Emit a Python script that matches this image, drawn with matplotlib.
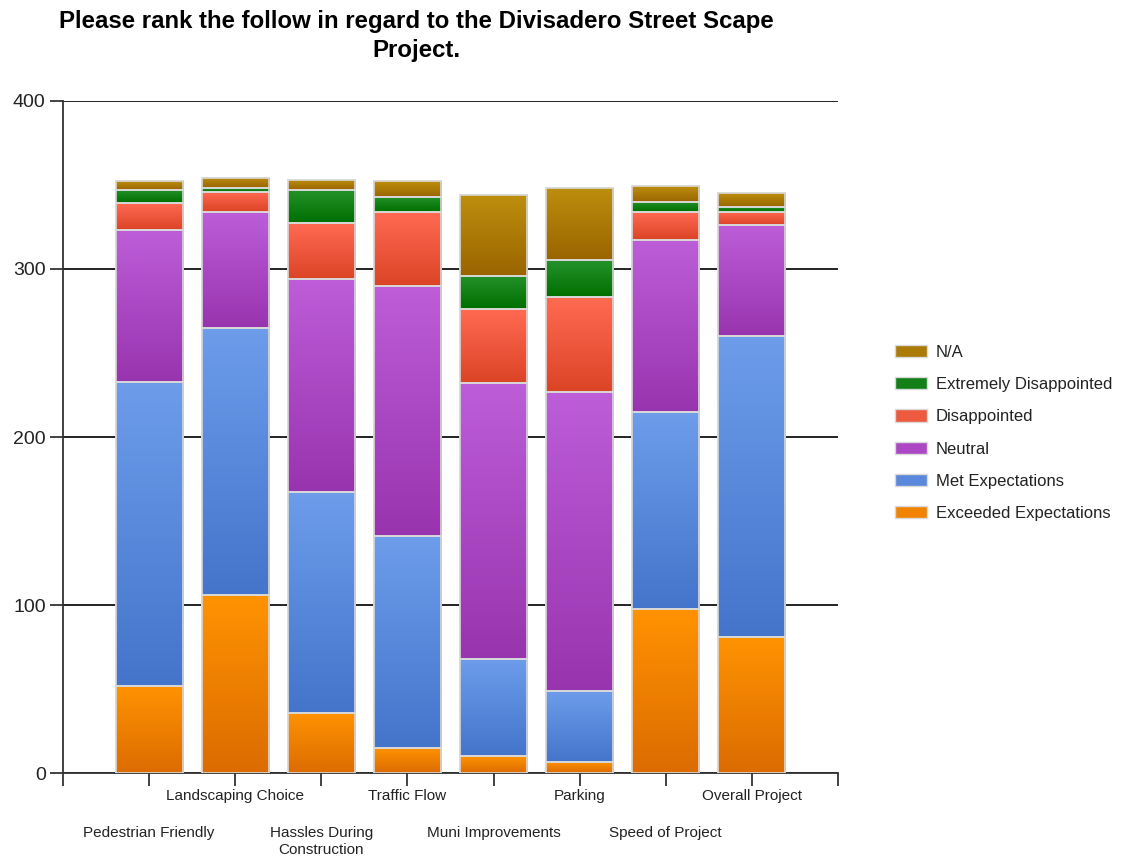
import numpy as np
import matplotlib.pyplot as plt
from matplotlib.colors import LinearSegmentedColormap
from matplotlib.patches import Patch

## Data
categories = ["Pedestrian Friendly", "Landscaping Choice", "Hassles During\nConstruction",
              "Traffic Flow", "Muni Improvements", "Parking", "Speed of Project", "Overall Project"]
exceeded = [52, 106, 36, 15, 10, 7, 98, 81]
met = [181, 159, 131, 126, 58, 42, 117, 179]
neutral = [90, 69, 127, 149, 164, 178, 102, 66]
disappointed = [16, 12, 33, 44, 44, 56, 17, 8]
extremely = [8, 2, 20, 9, 20, 22, 6, 3]
na = [5, 6, 6, 9, 48, 43, 9, 8]

series_names = ["Exceeded Expectations", "Met Expectations", "Neutral",
                "Disappointed", "Extremely Disappointed", "N/A"]
series = [exceeded, met, neutral, disappointed, extremely, na]
# (top colour, bottom colour) for the vertical gradient, plus a legend colour
colors = [("#FF9302", "#DC6C00"), ("#6C9CEA", "#4575CB"), ("#BD5DD8", "#9834AE"),
          ("#FF6A52", "#DC4426"), ("#24922A", "#006F00"), ("#BD8E0E", "#9A6500")]
legend_colors = ["#F08304", "#5A88DC", "#AC48C4", "#EE5A3E", "#128016", "#AC7A08"]

## Plotting
plt.rcParams['font.family'] = ['Liberation Sans', 'DejaVu Sans']
fig = plt.figure(figsize=(11.22, 8.58), dpi=100)
ax = fig.add_axes([63/1122, 1 - 773.3/858, (838 - 63)/1122, (773.3 - 100.7)/858])

x = np.arange(len(categories))
width = 0.78
grad = np.linspace(0, 1, 64).reshape(-1, 1)
bottom = np.zeros(len(categories))
for vals, (ctop, cbot) in zip(series, colors):
    vals = np.array(vals, dtype=float)
    cmap = LinearSegmentedColormap.from_list("g", [cbot, ctop])
    bars = ax.bar(x, vals, width, bottom=bottom, facecolor=cbot,
                  edgecolor="#d9d9d9", linewidth=1.2, zorder=3)
    for b in bars:
        x0, y0 = b.get_x(), b.get_y()
        im = ax.imshow(grad, cmap=cmap, aspect='auto', origin='lower',
                       extent=(x0, x0 + b.get_width(), y0, y0 + b.get_height()),
                       zorder=3.5)
        im.set_clip_path(b)
    # redraw the edge on top of the gradient
    ax.bar(x, vals, width, bottom=bottom, facecolor="none",
           edgecolor="#d9d9d9", linewidth=1.2, zorder=4)
    bottom += vals

ax.set_xlim(-1, 8)
ax.set_ylim(0, 400)
ax.set_yticks([0, 100, 200, 300, 400])
ax.yaxis.grid(True, color="#111111", linewidth=1.3, zorder=0)
ax.set_axisbelow(True)

# two staggered rows of category labels
odd = x[1::2]
even = x[0::2]
ax.set_xticks(list(odd) + [-1, 8])
ax.set_xticklabels([categories[i] for i in odd] + ["", ""])
ax.set_xticks(even, minor=True)
ax.set_xticklabels([categories[i] for i in even], minor=True)
ax.tick_params(axis='x', which='major', length=9, width=1.2, pad=2,
               labelsize=11, colors="#222222")
ax.tick_params(axis='x', which='minor', length=9, width=1.2, pad=29,
               labelsize=11, colors="#222222")
ax.tick_params(axis='y', length=9.5, width=1.2, pad=3, labelsize=14, colors="#222222")
for lab in ax.get_xticklabels(minor=True):
    lab.set_linespacing(1.3)

for s in ["top", "right"]:
    ax.spines[s].set_visible(False)
for s in ["left", "bottom"]:
    ax.spines[s].set_color("#333333")
    ax.spines[s].set_linewidth(1.3)

fig.text(416/1122, 1 - 10/858, "Please rank the follow in regard to the Divisadero Street Scape\nProject.",
         ha='center', va='top', fontsize=17.3, fontweight='bold', linespacing=1.32)

handles = [Patch(facecolor=c, edgecolor="#d9d9d9") for c in legend_colors][::-1]
fig.legend(handles, series_names[::-1], loc='upper left',
           bbox_to_anchor=(880/1122, 1 - 330/858), frameon=False,
           handlelength=1.9, handleheight=0.75, labelspacing=1.03,
           handletextpad=0.55, fontsize=12, labelcolor="#222222")

fig.savefig("out.png", dpi=100)
